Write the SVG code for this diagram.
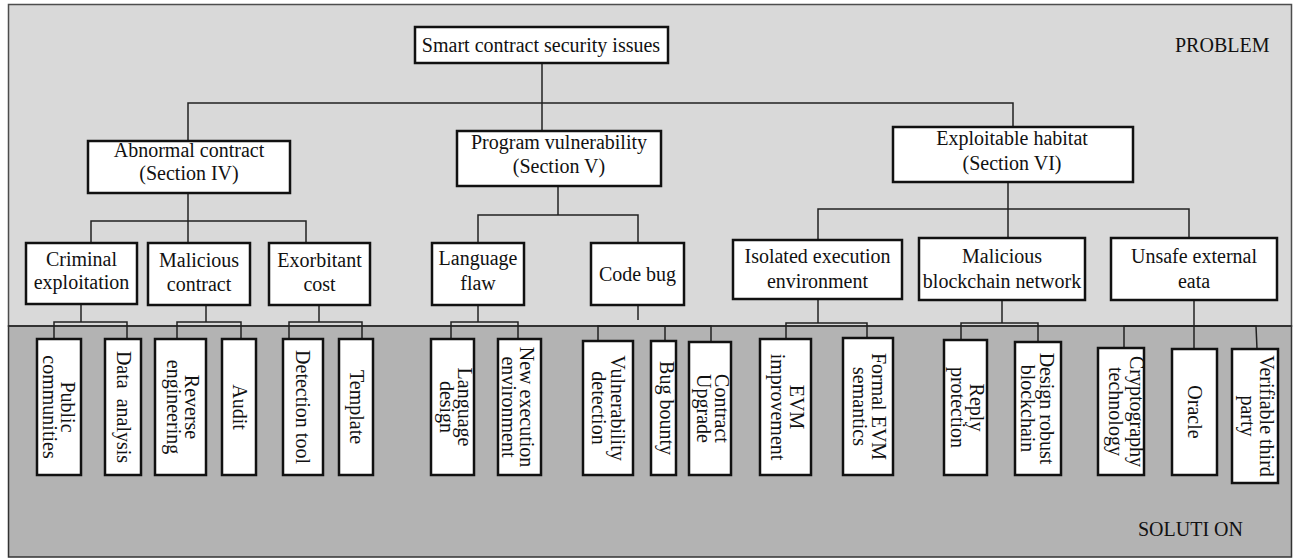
<svg xmlns="http://www.w3.org/2000/svg" width="1295" height="559" viewBox="0 0 1295 559">
<style>
.ftop{fill:#d9d9d9;stroke:#4d4d4d;stroke-width:1.5}
.fbot{fill:#b3b3b3;stroke:#333;stroke-width:1.5}
.div{stroke:#333;stroke-width:2.2}
.box{fill:#fff;stroke:#111;stroke-width:2.5}
.ln{fill:none;stroke:#222;stroke-width:1.5}
text{font-family:"Liberation Serif","Times New Roman",serif;font-size:20px;fill:#111}
.c{text-anchor:middle}
</style>
<g id="background">
<rect class="ftop" x="8.5" y="4.5" width="1283" height="321.5"/>
<rect class="fbot" x="8.5" y="326" width="1283" height="231"/>
<line class="div" x1="8" y1="326" x2="1292" y2="326"/>
<text x="1175" y="52">PROBLEM</text>
<text x="1138" y="536">SOLUTI ON</text>
</g>
<g id="connectors" class="ln">
<path d="M542 63V131"/>
<path d="M188 141V103H1013V127"/>
<path d="M188 193V243"/>
<path d="M91 243V221H306V243"/>
<path d="M558 186V215"/>
<path d="M478 243V215H638V243"/>
<path d="M1008 182V238"/>
<path d="M818 240V209H1189V238"/>
<path d="M81 304V322"/>
<path d="M54 339V322H127V339"/>
<path d="M206 305V322"/>
<path d="M177 339V322H241V339"/>
<path d="M319 305V322"/>
<path d="M289 339V322H362V339"/>
<path d="M478 305V322"/>
<path d="M451 339V322H518V339"/>
<path d="M638 305V320"/>
<path d="M598 341V326H711V342"/>
<path d="M665 326V341"/>
<path d="M818 299V323"/>
<path d="M786 339V323H867V338"/>
<path d="M1002 300V323"/>
<path d="M961 340V323H1038V342"/>
<path d="M1194 300V349"/>
<path d="M1124 348V326H1256L1257 349"/>
</g>
<g id="root"><rect class="box" x="415" y="27" width="253" height="36"/><text class="c" x="541" y="52">Smart contract security issues</text></g>
<g id="abnormal"><rect class="box" x="88" y="141" width="202" height="52"/><text class="c" x="189" y="157">Abnormal contract</text><text class="c" x="189" y="180">(Section IV)</text></g>
<g id="program"><rect class="box" x="457" y="131" width="204" height="55"/><text class="c" x="559" y="149">Program vulnerability</text><text class="c" x="559" y="173">(Section V)</text></g>
<g id="exploitable"><rect class="box" x="893" y="127" width="240" height="55"/><text class="c" x="1012" y="145">Exploitable habitat</text><text class="c" x="1012" y="170">(Section VI)</text></g>
<g id="criminal"><rect class="box" x="26" y="243" width="111" height="61"/><text class="c" x="81.5" y="266">Criminal</text><text class="c" x="81.5" y="289">exploitation</text></g>
<g id="malicious-contract"><rect class="box" x="148" y="243" width="102" height="62"/><text class="c" x="199" y="267">Malicious</text><text class="c" x="199" y="291">contract</text></g>
<g id="exorbitant"><rect class="box" x="269" y="243" width="101" height="62"/><text class="c" x="319.5" y="267">Exorbitant</text><text class="c" x="319.5" y="291">cost</text></g>
<g id="language-flaw"><rect class="box" x="432" y="243" width="92" height="62"/><text class="c" x="478" y="265">Language</text><text class="c" x="478" y="290">flaw</text></g>
<g id="code-bug"><rect class="box" x="591" y="243" width="93" height="62"/><text class="c" x="637.5" y="281">Code bug</text></g>
<g id="isolated"><rect class="box" x="733" y="240" width="169" height="59"/><text class="c" x="817.5" y="263">Isolated execution</text><text class="c" x="817.5" y="288">environment</text></g>
<g id="malicious-network"><rect class="box" x="919" y="238" width="166" height="62"/><text class="c" x="1002" y="263">Malicious</text><text class="c" x="1002" y="288">blockchain network</text></g>
<g id="unsafe"><rect class="box" x="1111" y="238" width="166" height="62"/><text class="c" x="1194" y="263">Unsafe external</text><text class="c" x="1194" y="288">eata</text></g>
<g id="public-communities"><rect class="box" x="37" y="339" width="44" height="136"/><text class="c" transform="translate(59 407) rotate(90)"><tspan x="0" y="-2">Public</tspan><tspan x="0" y="16">communities</tspan></text></g>
<g id="data-analysis"><rect class="box" x="105" y="339" width="36" height="136"/><text class="c" transform="translate(123 407) rotate(90)" y="6" xml:space="preserve">Data  analysis</text></g>
<g id="reverse-engineering"><rect class="box" x="155" y="339" width="51" height="136"/><text class="c" transform="translate(180.5 407) rotate(90)"><tspan x="0" y="-4.5">Reverse</tspan><tspan x="0" y="13.5">engineering</tspan></text></g>
<g id="audit"><rect class="box" x="222" y="339" width="34" height="136"/><text class="c" transform="translate(239 407) rotate(90)" y="6">Audit</text></g>
<g id="detection-tool"><rect class="box" x="283" y="339" width="40" height="136"/><text class="c" transform="translate(303 407) rotate(90)" y="7">Detection tool</text></g>
<g id="template"><rect class="box" x="339" y="339" width="34" height="136"/><text class="c" transform="translate(356 407) rotate(90)" y="6">Template</text></g>
<g id="language-design"><rect class="box" x="431" y="339" width="43" height="136"/><text class="c" transform="translate(452.5 407) rotate(90)"><tspan x="0" y="-5.5">Language</tspan><tspan x="0" y="13">design</tspan></text></g>
<g id="new-execution"><rect class="box" x="498" y="339" width="43" height="136"/><text class="c" transform="translate(519.5 407) rotate(90)"><tspan x="0" y="0">New execution</tspan><tspan x="0" y="18">environment</tspan></text></g>
<g id="vulnerability-detection"><rect class="box" x="583" y="341" width="50" height="134"/><text class="c" transform="translate(608 408) rotate(90)"><tspan x="0" y="-3">Vulnerability</tspan><tspan x="0" y="16">detection</tspan></text></g>
<g id="bug-bounty"><rect class="box" x="651" y="341" width="25" height="134"/><text class="c" transform="translate(663.5 408) rotate(90)" y="4">Bug bounty</text></g>
<g id="contract-upgrade"><rect class="box" x="689" y="342" width="42" height="133"/><text class="c" transform="translate(710 408.5) rotate(90)"><tspan x="0" y="-5">Contract</tspan><tspan x="0" y="13">Upgrade</tspan></text></g>
<g id="evm-improvement"><rect class="box" x="760" y="339" width="51" height="136"/><text class="c" transform="translate(785.5 407) rotate(90)"><tspan x="0" y="-4.5">EVM</tspan><tspan x="0" y="14.5">improvement</tspan></text></g>
<g id="formal-evm"><rect class="box" x="843" y="338" width="50" height="137"/><text class="c" transform="translate(868 406.5) rotate(90)"><tspan x="0" y="-4">Formal EVM</tspan><tspan x="0" y="15">semantics</tspan></text></g>
<g id="reply-protection"><rect class="box" x="944" y="340" width="43" height="135"/><text class="c" transform="translate(965.5 407.5) rotate(90)"><tspan x="0" y="-4.5">Reply</tspan><tspan x="0" y="14.5">protection</tspan></text></g>
<g id="design-robust"><rect class="box" x="1015" y="342" width="46" height="133"/><text class="c" transform="translate(1038 408.5) rotate(90)"><tspan x="0" y="-2">Design robust</tspan><tspan x="0" y="17">blockchain</tspan></text></g>
<g id="cryptography"><rect class="box" x="1098" y="348" width="46" height="127"/><text class="c" transform="translate(1121 411.5) rotate(90)"><tspan x="0" y="-9">Cryptography</tspan><tspan x="0" y="12">technology</tspan></text></g>
<g id="oracle"><rect class="box" x="1172" y="349" width="45" height="126"/><text class="c" transform="translate(1194.5 412) rotate(90)" y="6.5">Oracle</text></g>
<g id="verifiable"><rect class="box" x="1232" y="349" width="46" height="134"/><text class="c" transform="translate(1255 416) rotate(90)"><tspan x="0" y="-5">Verifiable third</tspan><tspan x="0" y="14">party</tspan></text></g>
</svg>
